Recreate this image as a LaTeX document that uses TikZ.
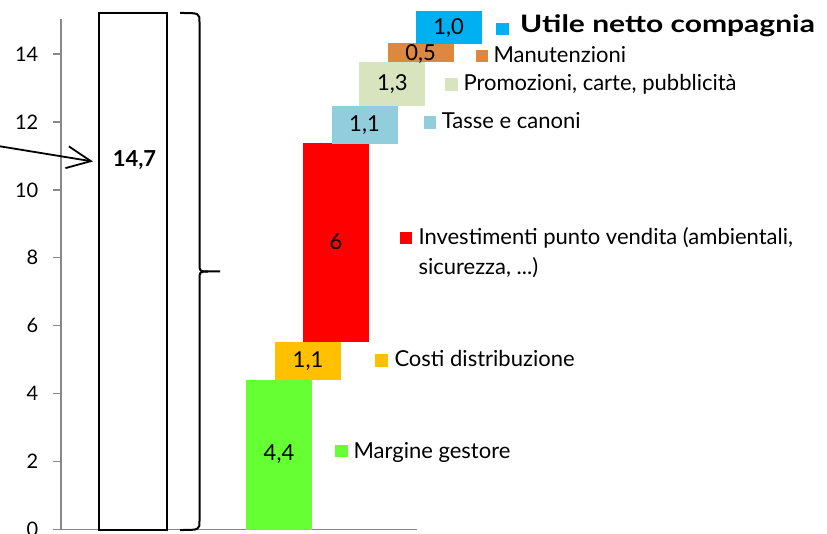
\documentclass[tikz,border=0pt]{standalone}
\usepackage{fontspec}
\setmainfont{Lato}
\usetikzlibrary{arrows.meta}
\definecolor{cgreen}{HTML}{66FF33}
\definecolor{corange}{HTML}{FFC000}
\definecolor{cred}{HTML}{FF0000}
\definecolor{clblue}{HTML}{92CDDC}
\definecolor{cbeige}{HTML}{D7E4BD}
\definecolor{cbrown}{HTML}{DE8740}
\definecolor{cblue}{HTML}{00B0F0}
\definecolor{caxis}{HTML}{888888}
\begin{document}
\begin{tikzpicture}[x=1pt,y=-1pt,
  bar/.style={minimum width=66pt, inner sep=0pt, outer sep=0pt, font=\fontsize{22}{24}\selectfont},
  lbl/.style={anchor=base west, inner sep=0pt, font=\fontsize{22}{30.7}\selectfont},
  tick/.style={anchor=east, inner sep=0pt, font=\fontsize{20}{24}\selectfont},
  sq/.style={inner sep=0pt, outer sep=0pt, minimum width=12.5pt, minimum height=12.5pt}
]
\useasboundingbox (0,0) rectangle (827,534);
% axis
\draw[caxis, line width=1.3pt] (61,19) -- (61,529.5) -- (417,529.5);
\foreach \v in {0,2,...,14}{
  \draw[caxis, line width=1.3pt] (53,529.5-\v*33.96) -- (61,529.5-\v*33.96);
  \node[tick] (t\v) at (38.5,529.5-\v*33.96) {\v};
}
% total box
\node[draw, line width=2pt, minimum width=68pt, minimum height=517pt, inner sep=0pt, outer sep=0pt] (tot) at (133,271.5) {};
\node[font=\fontsize{22}{24}\selectfont\bfseries, inner sep=0pt] (totl) at (134.5,160) {14,7};
\coordinate (arrs) at (-2,146);
\coordinate (arre) at (93,161.5);
\draw[line width=1.8pt, -{Straight Barb[length=24pt, width=22pt, line width=1.8pt]}] (arrs) -- (arre);
% brace
\coordinate (btop) at (180,13);
\coordinate (bbot) at (180,530);
\coordinate (bmid) at (220,271.5);
\draw[line width=2pt, line join=round] (btop) .. controls (199.5,13) .. (199.5,22) -- (199.5,263) .. controls (199.5,271.5) .. (208,271.5) -- (bmid);
\draw[line width=2pt, line join=round] (bbot) .. controls (199.5,530) .. (199.5,521) -- (199.5,280) .. controls (199.5,271.5) .. (208,271.5);
% bars
\node[bar, fill=cgreen, minimum height=150pt] (b1) at (279,454.5) {4,4};
\node[bar, fill=corange, minimum height=37.8pt] (b2) at (308,360.6) {1,1};
\node[bar, fill=cred, minimum height=199pt] (b3) at (336,242.2) {6};
\node[bar, fill=clblue, minimum height=37.5pt] (b4) at (364.5,124.8) {1,1};
\node[bar, fill=cbeige, minimum height=44.8pt] (b5) at (392.3,84) {1,3};
\node[bar, fill=cbrown, minimum height=18.8pt] (b6) at (420.7,52.7) {};
\node[bar] (b6l) at (420.7,53.7) {0,5};
\node[bar, fill=cblue, minimum height=33.3pt] (b7) at (448.7,27.7) {1,0};
% legend
\node[sq, fill=cblue] (s7) at (502.5,29) {};
\node[lbl, font=\fontsize{24}{26}\selectfont\bfseries] (l7) at (520,33) {\scalebox{1.25}[1]{Utile netto compagnia}};
\node[sq, fill=cbrown] (s6) at (482.2,56) {};
\node[lbl] (l6) at (493.3,62.5) {Manutenzioni};
\node[sq, fill=cbeige] (s5) at (451.7,84.3) {};
\node[lbl] (l5) at (463.3,90.7) {Promozioni, carte, pubblicità};
\node[sq, fill=clblue] (s4) at (430,122.5) {};
\node[lbl] (l4) at (441.7,128.5) {Tasse e canoni};
\node[sq, fill=cred] (s3) at (405.8,238.2) {};
\node[lbl, align=left] (l3) at (418.3,275) {Investimenti punto vendita (ambientali,\\sicurezza, ...)};
\node[sq, fill=corange] (s2) at (381.3,360.3) {};
\node[lbl] (l2) at (394.3,366.7) {Costi distribuzione};
\node[sq, fill=cgreen] (s1) at (341.3,451.2) {};
\node[lbl] (l1) at (353.3,458) {Margine gestore};
\end{tikzpicture}
\end{document}
